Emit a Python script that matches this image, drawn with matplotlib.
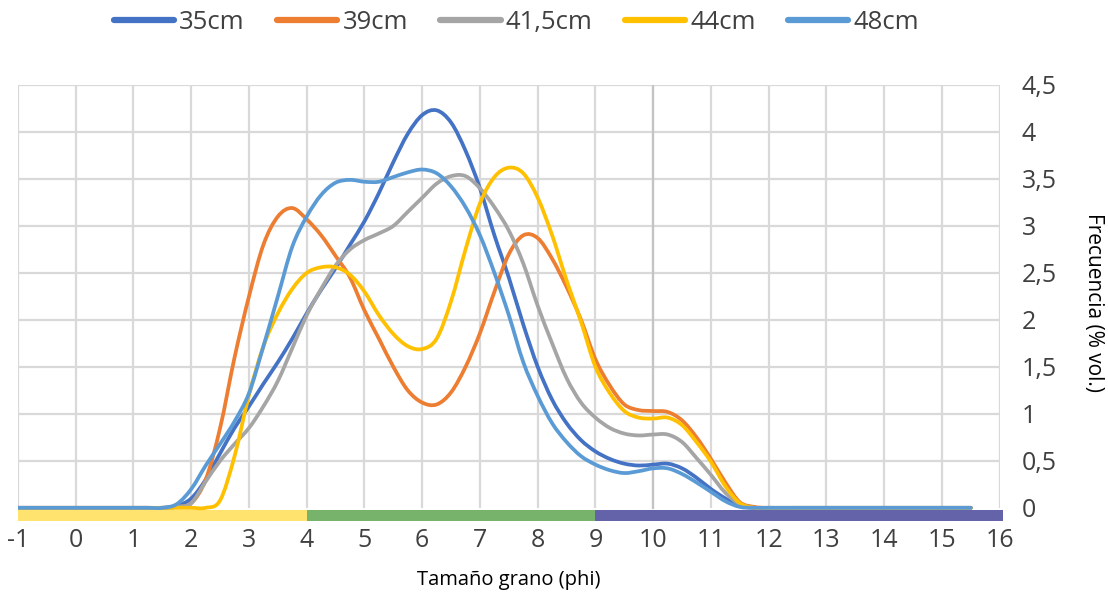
import matplotlib
matplotlib.use("Agg")
import matplotlib.pyplot as plt
from matplotlib.ticker import FuncFormatter, MultipleLocator
from matplotlib.path import Path
from matplotlib.patches import PathPatch
from matplotlib.lines import Line2D

plt.rcParams['font.family'] = ['Open Sans', 'DejaVu Sans']

# Grain size (phi) sampling positions
phi = [-1, -0.5, 0, 0.5, 1, 1.25,
       1.5, 1.75, 2.0, 2.25, 2.5, 2.75, 3.0, 3.25, 3.5, 3.75,
       4.0, 4.25, 4.5, 4.75, 5.0, 5.25, 5.5, 5.75, 6.0, 6.25,
       6.5, 6.75, 7.0, 7.25, 7.5, 7.75, 8.0, 8.25, 8.5, 8.75,
       9.0, 9.25, 9.5, 9.75, 10.0, 10.25, 10.5, 10.75, 11.0, 11.25,
       11.5, 11.75, 12.0,
       12.5, 13, 13.5, 14, 14.5, 15, 15.5]

# Frequency (% vol.) per sample depth
f_35 = [0, 0, 0, 0, 0, 0,
        0.0, 0.02, 0.10, 0.30, 0.58, 0.85, 1.08, 1.32, 1.55, 1.80,
        2.07, 2.32, 2.55, 2.80, 3.05, 3.35, 3.68, 3.98, 4.18, 4.23,
        4.10, 3.80, 3.40, 2.90, 2.45, 1.95, 1.50, 1.15, 0.90, 0.72,
        0.60, 0.52, 0.47, 0.45, 0.46, 0.47, 0.42, 0.32, 0.20, 0.10,
        0.02, 0.0, 0.0,
        0, 0, 0, 0, 0, 0, 0]

f_39 = [0, 0, 0, 0, 0, 0,
        0.0, 0.01, 0.05, 0.30, 0.85, 1.60, 2.25, 2.80, 3.10, 3.19,
        3.07, 2.90, 2.68, 2.45, 2.10, 1.80, 1.50, 1.25, 1.12, 1.10,
        1.23, 1.50, 1.86, 2.30, 2.70, 2.90, 2.87, 2.65, 2.35, 2.00,
        1.58, 1.30, 1.10, 1.04, 1.03, 1.02, 0.93, 0.75, 0.52, 0.27,
        0.06, 0.01, 0.0,
        0, 0, 0, 0, 0, 0, 0]

f_415 = [0, 0, 0, 0, 0, 0,
         0.0, 0.01, 0.05, 0.28, 0.50, 0.68, 0.85, 1.08, 1.35, 1.70,
         2.05, 2.33, 2.58, 2.75, 2.85, 2.92, 3.00, 3.15, 3.30, 3.45,
         3.53, 3.53, 3.40, 3.20, 2.95, 2.60, 2.15, 1.75, 1.38, 1.12,
         0.96, 0.85, 0.79, 0.77, 0.78, 0.78, 0.70, 0.53, 0.35, 0.16,
         0.04, 0.0, 0.0,
         0, 0, 0, 0, 0, 0, 0]

f_44 = [0, 0, 0, 0, 0, 0,
        0.0, 0.0, 0.0, 0.0, 0.08, 0.55, 1.20, 1.72, 2.07, 2.33,
        2.50, 2.56, 2.56, 2.48, 2.30, 2.05, 1.85, 1.72, 1.69, 1.80,
        2.20, 2.75, 3.24, 3.52, 3.62, 3.56, 3.30, 2.90, 2.42, 1.98,
        1.50, 1.22, 1.03, 0.96, 0.95, 0.96, 0.88, 0.70, 0.49, 0.23,
        0.05, 0.0, 0.0,
        0, 0, 0, 0, 0, 0, 0]

f_48 = [0, 0, 0, 0, 0, 0,
        0.0, 0.04, 0.20, 0.45, 0.68, 0.92, 1.22, 1.72, 2.25, 2.78,
        3.10, 3.33, 3.46, 3.49, 3.47, 3.47, 3.52, 3.57, 3.60, 3.56,
        3.42, 3.20, 2.90, 2.50, 2.05, 1.55, 1.19, 0.90, 0.70, 0.55,
        0.46, 0.40, 0.37, 0.39, 0.42, 0.42, 0.36, 0.27, 0.17, 0.07,
        0.01, 0.0, 0.0,
        0, 0, 0, 0, 0, 0, 0]

series_labels = ['35cm', '39cm', '41,5cm', '44cm', '48cm']
series_values = [f_35, f_39, f_415, f_44, f_48]
series_colors = ['#4472C4', '#ED7D31', '#A5A5A5', '#FFC000', '#5B9BD5']

# Sediment classes shown as a colour band under the axis
class_edges = [-1, 4, 9, 16.06]
class_colors = ['#FFE36E', '#77B36B', '#6462A8']


def smooth_path(xs, ys, k=1.0 / 6.0):
    """Smoothed (Catmull-Rom style) Bezier path through the points."""
    n = len(xs)
    verts = [(xs[0], ys[0])]
    codes = [Path.MOVETO]
    for i in range(n - 1):
        a = max(i - 1, 0)
        d = min(i + 2, n - 1)
        c1 = (xs[i] + (xs[i + 1] - xs[a]) * k, ys[i] + (ys[i + 1] - ys[a]) * k)
        c2 = (xs[i + 1] - (xs[d] - xs[i]) * k, ys[i + 1] - (ys[d] - ys[i]) * k)
        verts += [c1, c2, (xs[i + 1], ys[i + 1])]
        codes += [Path.CURVE4] * 3
    return Path(verts, codes)


fig = plt.figure(figsize=(11.08, 5.95), dpi=100)
ax = fig.add_axes([0.01625, 0.1244, 0.8860, 0.7328])

ax.set_xlim(-1, 16)
ax.set_ylim(-0.14, 4.5)

# grid
for x in range(-1, 17):
    ax.plot([x, x], [0, 4.5], color='#D9D9D9', lw=1.6, zorder=1,
            solid_capstyle='butt')
for y in [0.5 * k for k in range(1, 10)]:
    ax.plot([-1, 16], [y, y], color='#D9D9D9', lw=1.6, zorder=1,
            solid_capstyle='butt')
ax.plot([10, 10], [0, 4.5], color='#C4C4C4', lw=1.6, zorder=1.1)

# colour band
for i, c in enumerate(class_colors):
    ax.bar(class_edges[i], 0.12, width=class_edges[i + 1] - class_edges[i],
           bottom=-0.14, align='edge', color=c, zorder=2, clip_on=False,
           linewidth=0)

handles = []
for lab, vals, col in zip(series_labels, series_values, series_colors):
    patch = PathPatch(smooth_path(phi, vals), facecolor='none', edgecolor=col,
                      lw=2.7, zorder=3, joinstyle='round', capstyle='round',
                      transform=ax.transData)
    ax.add_patch(patch)
    handles.append(Line2D([], [], color=col, lw=4.5, label=lab,
                          solid_capstyle='round'))

for s in ax.spines.values():
    s.set_visible(False)

ax.xaxis.set_major_locator(MultipleLocator(1))
ax.set_yticks([0.5 * k for k in range(0, 10)])
ax.yaxis.tick_right()
ax.yaxis.set_label_position('right')
ax.yaxis.set_major_formatter(FuncFormatter(
    lambda v, p: ('%g' % v).replace('.', ',')))
ax.xaxis.set_major_formatter(FuncFormatter(lambda v, p: '%d' % v))
ax.tick_params(axis='both', length=0, labelcolor='#404040', labelsize=18)
ax.tick_params(axis='x', pad=5)
ax.tick_params(axis='y', pad=16)
for t in ax.get_yticklabels():
    t.set_horizontalalignment('left')

ax.set_xlabel('Tamaño grano (phi)', fontsize=14.5, color='#000000', labelpad=12)
ax.set_ylabel('Frecuencia (% vol.)', fontsize=15, color='#000000',
              rotation=270, labelpad=34)

fig.legend(handles=handles, loc='center', bbox_to_anchor=(0.466, 0.963),
           ncol=5, frameon=False, fontsize=18.5, handlelength=2.35,
           handletextpad=0.2, columnspacing=1.25, labelcolor='#404040')

fig.savefig('out.png', dpi=100)
